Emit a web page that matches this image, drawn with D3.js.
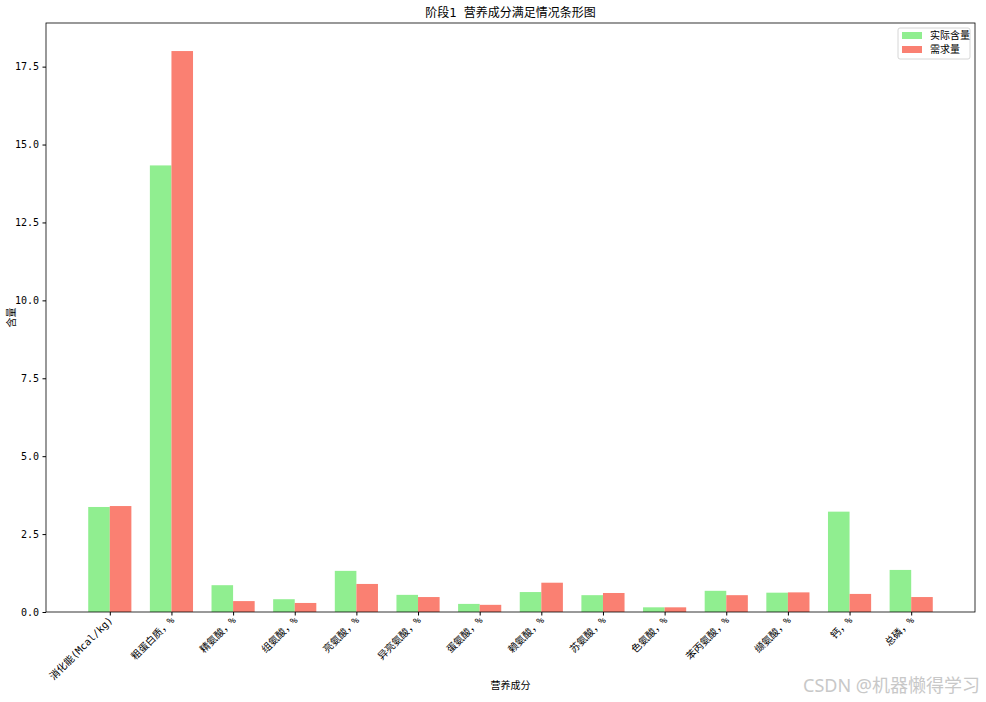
<!DOCTYPE html>
<html>
<head>
<meta charset="utf-8">
<script src="https://cdn.jsdelivr.net/npm/d3@7"></script>
<style>
  body { margin: 0; background: #fff; }
  text { font-family: "DejaVu Sans Mono", "Noto Sans CJK SC", sans-serif; fill: #000; }
</style>
</head>
<body>
<div id="chart"></div>
<script>
// Nutrient categories and values
var categories = ["消化能(Mcal/kg)", "粗蛋白质，%", "精氨酸，%", "组氨酸，%", "亮氨酸，%",
  "异亮氨酸，%", "蛋氨酸，%", "赖氨酸，%", "苏氨酸，%", "色氨酸，%", "苯丙氨酸，%",
  "缬氨酸，%", "钙，%", "总磷，%"];
var actual = [3.37, 14.33, 0.86, 0.41, 1.32, 0.55, 0.26, 0.64, 0.54, 0.15, 0.68, 0.62, 3.22, 1.35];
var required = [3.40, 18.0, 0.35, 0.29, 0.90, 0.48, 0.23, 0.94, 0.61, 0.15, 0.54, 0.63, 0.58, 0.48];
var yTicks = [0, 2.5, 5, 7.5, 10, 12.5, 15, 17.5];
var seriesNames = ["实际含量", "需求量"];
var seriesColors = ["#90EE90", "#FA8072"];

var width = 986, height = 702;
var m = {left: 46, right: 11, top: 23, bottom: 90};
var barW = 0.35;

var svg = d3.select("#chart").append("svg")
    .attr("width", width)
    .attr("height", height);

// x in "category index" units, padded like matplotlib's 5% margin
var lo = -barW, hi = categories.length - 1 + barW;
var pad = (hi - lo) * 0.05;
var x = d3.scaleLinear()
    .domain([lo - pad, hi + pad])
    .range([m.left, width - m.right]);
var y = d3.scaleLinear()
    .domain([0, d3.max(required.concat(actual)) * 1.05])
    .range([height - m.bottom, m.top]);

// bars
var series = [actual, required];
series.forEach(function (vals, s) {
    svg.append("g").selectAll("rect")
        .data(vals)
        .enter().append("rect")
        .attr("x", function (d, i) { return x(i - barW + s * barW); })
        .attr("width", function () { return x(barW) - x(0); })
        .attr("y", function (d) { return y(d); })
        .attr("height", function (d) { return y(0) - y(d); })
        .attr("fill", seriesColors[s]);
});

// axes
var xAxis = svg.append("g")
    .attr("transform", "translate(0," + (height - m.bottom) + ")")
    .call(d3.axisBottom(x).tickValues(d3.range(categories.length))
        .tickFormat(function (i) { return categories[i]; })
        .tickSizeOuter(0).tickSize(3.5));
xAxis.select(".domain").remove();
xAxis.selectAll("text")
    .style("font-size", "10px")
    .attr("text-anchor", "end")
    .attr("dy", null).attr("y", 0)
    .attr("transform", "translate(3,9) rotate(-45)");

var yAxis = svg.append("g")
    .attr("transform", "translate(" + m.left + ",0)")
    .call(d3.axisLeft(y).tickValues(yTicks).tickFormat(d3.format(".1f"))
        .tickSizeOuter(0).tickSize(3.5).tickPadding(3.5));
yAxis.select(".domain").remove();
yAxis.selectAll("text").style("font-size", "10px");

// frame
svg.append("rect")
    .attr("x", m.left).attr("y", m.top)
    .attr("width", width - m.left - m.right)
    .attr("height", height - m.top - m.bottom)
    .attr("fill", "none")
    .attr("stroke", "#000")
    .attr("stroke-width", 0.8);

// title and axis labels
svg.append("text")
    .attr("x", (m.left + width - m.right) / 2)
    .attr("y", m.top - 6)
    .attr("text-anchor", "middle")
    .style("font-size", "12px")
    .text("阶段1 营养成分满足情况条形图");

svg.append("text")
    .attr("x", (m.left + width - m.right) / 2)
    .attr("y", 689)
    .attr("text-anchor", "middle")
    .style("font-size", "10px")
    .text("营养成分");

svg.append("text")
    .attr("transform", "translate(15," + (m.top + height - m.bottom) / 2 + ") rotate(-90)")
    .attr("text-anchor", "middle")
    .style("font-size", "10px")
    .text("含量");

// legend
var lg = svg.append("g").attr("transform", "translate(" + (width - m.right - 77) + "," + (m.top + 5) + ")");
lg.append("rect")
    .attr("width", 72).attr("height", 31)
    .attr("rx", 2)
    .attr("fill", "#fff")
    .attr("stroke", "#ccc")
    .attr("stroke-width", 0.8);
seriesNames.forEach(function (name, i) {
    lg.append("rect")
        .attr("x", 4).attr("y", 4 + i * 14)
        .attr("width", 20).attr("height", 7)
        .attr("fill", seriesColors[i]);
    lg.append("text")
        .attr("x", 32).attr("y", 11 + i * 14)
        .style("font-size", "10px")
        .text(name);
});

// watermark
svg.append("text")
    .attr("x", 980).attr("y", 692)
    .attr("text-anchor", "end")
    .style("font-family", "'Noto Sans', 'Noto Sans CJK SC', sans-serif")
    .style("font-size", "18px")
    .style("fill", "#c8c8c8")
    .text("CSDN @机器懒得学习");
</script>
</body>
</html>
